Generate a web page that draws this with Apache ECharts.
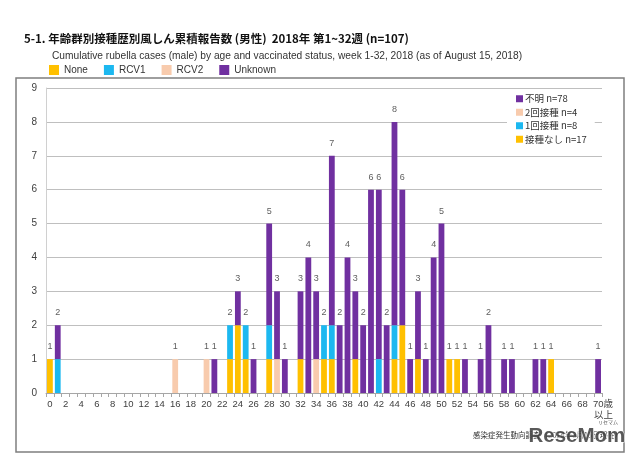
<!DOCTYPE html>
<html>
<head>
<meta charset="utf-8">
<script src="https://cdn.jsdelivr.net/npm/echarts@6/dist/echarts.min.js"></script>
<style>
html,body{margin:0;padding:0;background:#fff;}
#chart{width:640px;height:466px;}
</style>
</head>
<body>
<div id="chart"></div>
<script>
// Categories: age 0 .. 70 (70 = 70歳以上)
var ages = ["0","1","2","3","4","5","6","7","8","9",
            "10","11","12","13","14","15","16","17","18","19",
            "20","21","22","23","24","25","26","27","28","29",
            "30","31","32","33","34","35","36","37","38","39",
            "40","41","42","43","44","45","46","47","48","49",
            "50","51","52","53","54","55","56","57","58","59",
            "60","61","62","63","64","65","66","67","68","69",
            "70"];

// Series values by age
var noneVals = [1,0,0,0,0,0,0,0,0,0,
                0,0,0,0,0,0,0,0,0,0,
                0,0,0,1,2,1,0,0,1,0,
                0,0,1,0,0,1,1,0,0,1,
                0,0,0,0,1,2,0,1,0,0,
                0,1,1,0,0,0,0,0,0,0,
                0,0,0,0,1,0,0,0,0,0,
                0];
var rcv1Vals = [0,1,0,0,0,0,0,0,0,0,
                0,0,0,0,0,0,0,0,0,0,
                0,0,0,1,0,1,0,0,1,0,
                0,0,0,0,0,1,1,0,0,0,
                0,0,1,0,1,0,0,0,0,0,
                0,0,0,0,0,0,0,0,0,0,
                0,0,0,0,0,0,0,0,0,0,
                0];
var rcv2Vals = [0,0,0,0,0,0,0,0,0,0,
                0,0,0,0,0,0,1,0,0,0,
                1,0,0,0,0,0,0,0,0,1,
                0,0,0,0,1,0,0,0,0,0,
                0,0,0,0,0,0,0,0,0,0,
                0,0,0,0,0,0,0,0,0,0,
                0,0,0,0,0,0,0,0,0,0,
                0];
var unknownVals = [0,1,0,0,0,0,0,0,0,0,
                   0,0,0,0,0,0,0,0,0,0,
                   0,1,0,0,1,0,1,0,3,2,
                   1,0,2,4,2,0,5,2,4,2,
                   2,6,5,2,6,4,1,2,1,4,
                   5,0,0,1,0,1,2,0,1,1,
                   0,0,1,1,0,0,0,0,0,0,
                   1];

var yTicks = [0,1,2,3,4,5,6,7,8,9];

var seriesNames = ["None","RCV1","RCV2","Unknown"];
var seriesJa = {"None":"接種なし","RCV1":"1回接種","RCV2":"2回接種","Unknown":"不明"};
var colors = {"None":"#FFC000","RCV1":"#1CB8F0","RCV2":"#F8CBAD","Unknown":"#7030A0"};
var valueSets = {"None":noneVals,"RCV1":rcv1Vals,"RCV2":rcv2Vals,"Unknown":unknownVals};

function sum(a){var s=0;for(var i=0;i<a.length;i++)s+=a[i];return s;}
var totals = ages.map(function(_,i){
  var t = noneVals[i]+rcv1Vals[i]+rcv2Vals[i]+unknownVals[i];
  return t>0 ? t : null;
});

var FONT = "'Liberation Sans','Noto Sans CJK JP',sans-serif";
var chart = echarts.init(document.getElementById('chart'), null, {renderer:'canvas'});

var series = seriesNames.map(function(n){
  return {
    name:n, type:'bar', stack:'total',
    data:valueSets[n],
    barCategoryGap:'26%',
    itemStyle:{color:colors[n]},
    emphasis:{disabled:true},
    animation:false
  };
});
series.push({
  name:'total', type:'scatter', data:totals, symbolSize:0,
  label:{show:true, position:'top', distance:8, fontSize:9, color:'#333', fontFamily:FONT,
         formatter:function(p){return p.value;}},
  silent:true, animation:false, z:5
});

var option = {
  backgroundColor:'#fff',
  animation:false,
  title:[
    {text:'5-1. 年齢群別接種歴別風しん累積報告数 (男性)  2018年 第1~32週 (n=107)',
     left:19, top:28,
     textStyle:{fontSize:11.5, fontWeight:'bold', color:'#111', fontFamily:"'Noto Sans CJK JP',sans-serif"}},
    {text:'Cumulative rubella cases (male) by age and vaccinated status, week 1-32, 2018 (as of August 15, 2018)',
     left:47, top:46,
     textStyle:{fontSize:10.2, fontWeight:'normal', color:'#333', fontFamily:FONT}}
  ],
  legend:[
    {data:seriesNames, left:44, top:60, itemWidth:10, itemHeight:10, itemGap:16,
     icon:'rect', selectedMode:false,
     textStyle:{fontSize:10, color:'#333', fontFamily:FONT}},
    {data:['Unknown','RCV2','RCV1','None'], orient:'vertical', left:507, top:91,
     itemWidth:7, itemHeight:7, itemGap:4, icon:'rect', selectedMode:false,
     backgroundColor:'#fff', padding:[3,8,6,9],
     formatter:function(n){return seriesJa[n]+' n='+sum(valueSets[n]);},
     textStyle:{fontSize:9.5, color:'#333', fontFamily:"'Noto Sans CJK JP',sans-serif", padding:[0,0,0,-3]}}
  ],
  grid:{left:46, right:38, top:88, bottom:73, containLabel:false},
  xAxis:{
    type:'category', data:ages,
    axisLine:{show:true, lineStyle:{color:'#a6a6a6'}},
    axisTick:{show:true, interval:0, length:4, lineStyle:{color:'#a6a6a6'}},
    axisLabel:{interval:1, fontSize:9.5, color:'#404040', margin:7, fontFamily:FONT,
      formatter:function(v){
        if(v==='70') return '{a|70歳}\n{b|以上}';
        return v;
      },
      rich:{
        a:{fontSize:9.5, color:'#404040', fontFamily:FONT, padding:[0,0,0,10]},
        b:{fontSize:9.5, color:'#404040', fontFamily:"'Noto Sans CJK JP',sans-serif", align:'right', padding:[0,0,0,10]}
      }
    }
  },
  yAxis:{
    type:'value', min:yTicks[0], max:yTicks[yTicks.length-1], interval:1,
    axisLine:{show:true, lineStyle:{color:'#d0d0d0'}},
    axisTick:{show:false},
    axisLabel:{fontSize:10, color:'#404040', margin:9, fontFamily:FONT},
    splitLine:{lineStyle:{color:'#bfbfbf'}}
  },
  series:series,
  graphic:[
    {type:'rect', shape:{x:16, y:78, width:608, height:374}, silent:true, z:-1,
     style:{fill:'none', stroke:'#7f7f7f', lineWidth:1.5}},
    {type:'text', left:473, top:431, silent:true,
     style:{text:'感染症発生動向調査（2018年8月15日現在）', fontSize:7.5, fill:'#333', fontFamily:"'Noto Sans CJK JP',sans-serif"}},
    {type:'text', left:528, top:425, silent:true, z:10,
     style:{text:'ReseMom', fontSize:20.5, fontWeight:'bold', fill:'rgba(60,60,60,0.85)', stroke:'#fff', lineWidth:1,
            fontFamily:"'Liberation Sans',sans-serif"}},
    {type:'text', left:598, top:420, silent:true, z:10,
     style:{text:'リセマム', fontSize:5, fill:'#555', fontFamily:"'Noto Sans CJK JP',sans-serif"}}
  ]
};
chart.setOption(option);
</script>
</body>
</html>
